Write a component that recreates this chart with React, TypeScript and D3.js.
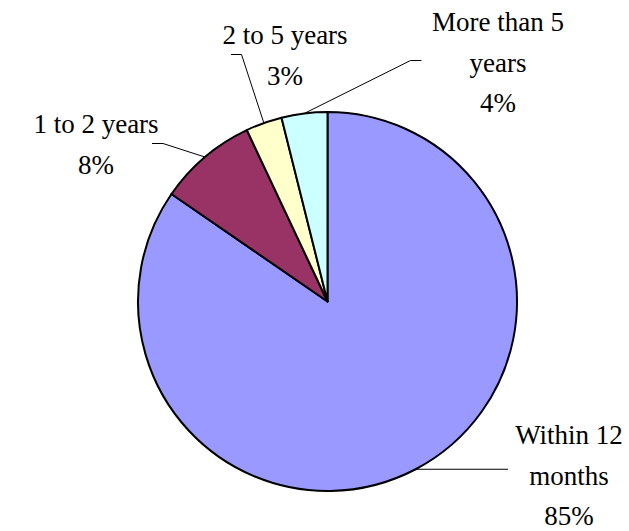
import React from "react";
import * as d3 from "d3";

const categories = ["Within 12 months", "1 to 2 years", "2 to 5 years", "More than 5 years"];
const values = [84.6, 8.4, 3.1, 3.9];
const percentLabels = ["85%", "8%", "3%", "4%"];
const labelLines = [["Within 12", "months"], ["1 to 2 years"], ["2 to 5 years"], ["More than 5", "years"]];
const colors = ["#9999FF", "#993366", "#FFFFCC", "#CCFFFF"];

const W = 629;
const H = 531;
const cx = 327.5;
const cy = 301.5;
const R = 189.5;
const FONT = 27;
const LINE_H = 40.5;

const layout = [
  { x: 569, y: 444, elbow: null as null | [number, number], end: [508, 0] as [number, number], horiz: true },
  { x: 96, y: 133, elbow: [163, 143.5] as [number, number], end: [152, 143.5] as [number, number], horiz: false },
  { x: 285, y: 44, elbow: [241.5, 54.5] as [number, number], end: [231, 54.5] as [number, number], horiz: false },
  { x: 498, y: 31, elbow: [410.5, 60.5] as [number, number], end: [421.5, 60.5] as [number, number], horiz: false },
];

export default function App() {
  const pie = d3.pie<number>().sort(null).value((d) => d);
  const arcs = pie(values);
  const arc = d3.arc<d3.PieArcDatum<number>>().innerRadius(0).outerRadius(R);

  return (
    <svg width={W} height={H} style={{ position: "absolute", left: 0, top: 0, background: "#fff" }}>
      <rect width={W} height={H} fill="#fff" />
      <g transform={`translate(${cx},${cy})`}>
        {arcs.map((a, i) => (
          <path key={categories[i]} d={arc(a) || ""} fill={colors[i]} stroke="#000" strokeWidth={2} strokeLinejoin="round" />
        ))}
      </g>
      {arcs.map((a, i) => {
        const mid = (a.startAngle + a.endAngle) / 2;
        const sx = cx + R * Math.sin(mid);
        const sy = cy - R * Math.cos(mid);
        const L = layout[i];
        const pts: [number, number][] = [[sx, sy]];
        if (L.horiz) {
          pts.push([L.end[0], sy]);
        } else {
          pts.push(L.elbow!);
          pts.push(L.end);
        }
        const line = d3.line()(pts) || "";
        return <path key={"l" + i} d={line} fill="none" stroke="#000" strokeWidth={1} />;
      })}
      {labelLines.map((lines, i) => {
        const L = layout[i];
        const all = [...lines, percentLabels[i]];
        return (
          <text
            key={"t" + i}
            textAnchor="middle"
            fontFamily='"Times New Roman", Times, "Liberation Serif", Tinos, "Nimbus Roman", FreeSerif, "DejaVu Serif", "Noto Serif", serif'
            fontSize={FONT}
            fill="#000"
          >
            {all.map((s, j) => (
              <tspan key={j} x={L.x} y={L.y + j * LINE_H}>
                {s}
              </tspan>
            ))}
          </text>
        );
      })}
    </svg>
  );
}
